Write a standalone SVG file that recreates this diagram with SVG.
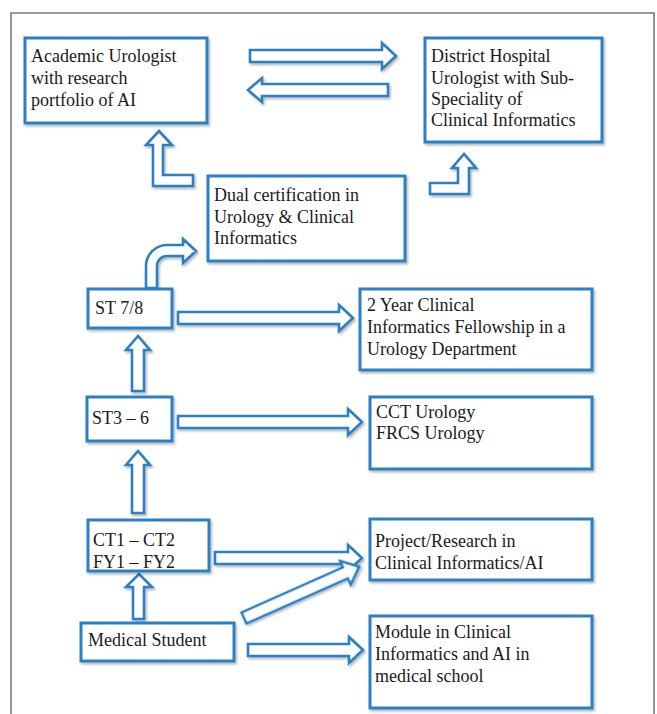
<svg xmlns="http://www.w3.org/2000/svg" width="657" height="714" viewBox="0 0 657 714">
<defs>
<filter id="sh" x="-10%" y="-10%" width="130%" height="130%">
<feDropShadow dx="1.5" dy="2" stdDeviation="1.2" flood-color="#000" flood-opacity="0.28"/>
</filter>
<style>
.box{fill:#fff;stroke:#2b80c3;stroke-width:3;filter:url(#sh)}
.arr{fill:#fff;stroke:#2b80c3;stroke-width:2.6;stroke-linejoin:miter;filter:url(#sh)}
.t{font-family:"Liberation Serif","Times New Roman",serif;font-size:18px;fill:#1a1a1a}
</style>
</defs>
<rect width="657" height="714" fill="#fff"/>
<path d="M11,714 V13 H654 V714" fill="none" stroke="#7a7a7a" stroke-width="1.6"/>

<g id="connectors">
<!-- Academic -> District -->
<polygon class="arr" points="250,50 382,50 382,43 396,56 382,69 382,62 250,62"/>
<!-- District -> Academic -->
<polygon class="arr" points="388,84 262,84 262,78 248,90 262,102 262,96 388,96"/>
<!-- Dual -> Academic (L up) -->
<polygon class="arr" points="193,175 163,175 163,145 172,145 159,131 146,145 153,145 153,186 193,186"/>
<!-- Dual -> District (L up) -->
<polygon class="arr" points="430,183 458,183 458,168 452,168 464,154 476,168 469,168 469,194 430,194"/>
<!-- ST7/8 -> Dual (curved) -->
<path class="arr" d="M146,288 V266 A21,21 0 0 1 167,245 H183 V239 L196,251 L183,263 V256 H167 A10,10 0 0 0 157,266 V288 Z"/>
<!-- ST7/8 -> 2 Year -->
<polygon class="arr" points="178,312 339,312 339,305 353,318 339,331 339,324 178,324"/>
<!-- ST3-6 -> ST7/8 -->
<polygon class="arr" points="132,391 132,350 126,350 138,336 150,350 144,350 144,391"/>
<!-- ST3-6 -> CCT -->
<polygon class="arr" points="178,416 348,416 348,409 362,422 348,435 348,428 178,428"/>
<!-- CT -> ST3-6 -->
<polygon class="arr" points="132,513 132,465 126,465 138,451 150,465 144,465 144,513"/>
<!-- CT -> Project -->
<polygon class="arr" points="215,552 348,552 348,545 362,558 348,571 348,564 215,564"/>
<!-- Medical Student -> CT -->
<polygon class="arr" points="133,619 133,587 126,587 139,574 152,587 144,587 144,619"/>
<!-- Medical Student -> Project (diagonal) -->
<polygon class="arr" transform="translate(244,618) rotate(-24)" points="0,-6 111,-6 111,-13 126,0 111,13 111,6 0,6"/>
<!-- Medical Student -> Module -->
<polygon class="arr" points="248,644 349,644 349,637 363,650 349,663 349,656 248,656"/>
</g>

<g id="academic">
<rect class="box" x="25" y="38" width="182" height="85"/>
<text class="t" x="31" y="62">Academic Urologist</text>
<text class="t" x="31" y="84">with research</text>
<text class="t" x="31" y="106">portfolio of AI</text>
</g>
<g id="district">
<rect class="box" x="425" y="38" width="177" height="104"/>
<text class="t" x="431" y="62">District Hospital</text>
<text class="t" x="431" y="84">Urologist with Sub-</text>
<text class="t" x="431" y="105">Speciality of</text>
<text class="t" x="431" y="126">Clinical Informatics</text>
</g>
<g id="dual">
<rect class="box" x="208" y="176" width="197" height="85"/>
<text class="t" x="214" y="201">Dual certification in</text>
<text class="t" x="214" y="223">Urology &amp; Clinical</text>
<text class="t" x="214" y="244">Informatics</text>
</g>
<g id="st78">
<rect class="box" x="88" y="289" width="84" height="39"/>
<text class="t" x="95" y="314">ST 7/8</text>
</g>
<g id="twoyear">
<rect class="box" x="360" y="289" width="232" height="81"/>
<text class="t" x="367" y="311">2 Year Clinical</text>
<text class="t" x="367" y="333">Informatics Fellowship in a</text>
<text class="t" x="367" y="355">Urology Department</text>
</g>
<g id="st36">
<rect class="box" x="87" y="397" width="85" height="44"/>
<text class="t" x="92" y="424">ST3 – 6</text>
</g>
<g id="cct">
<rect class="box" x="370" y="397" width="222" height="72"/>
<text class="t" x="376" y="418">CCT Urology</text>
<text class="t" x="376" y="439">FRCS Urology</text>
</g>
<g id="ct">
<rect class="box" x="88" y="520" width="121" height="51"/>
<text class="t" x="93" y="546">CT1 – CT2</text>
<text class="t" x="93" y="568">FY1 – FY2</text>
</g>
<g id="project">
<rect class="box" x="370" y="519" width="222" height="61"/>
<text class="t" x="375" y="547">Project/Research in</text>
<text class="t" x="375" y="569">Clinical Informatics/AI</text>
</g>
<g id="medstudent">
<rect class="box" x="81" y="623" width="153" height="38"/>
<text class="t" x="88" y="646">Medical Student</text>
</g>
<g id="module">
<rect class="box" x="370" y="616" width="222" height="92"/>
<text class="t" x="375" y="638">Module in Clinical</text>
<text class="t" x="375" y="660">Informatics and AI in</text>
<text class="t" x="375" y="682">medical school</text>
</g>
</svg>
